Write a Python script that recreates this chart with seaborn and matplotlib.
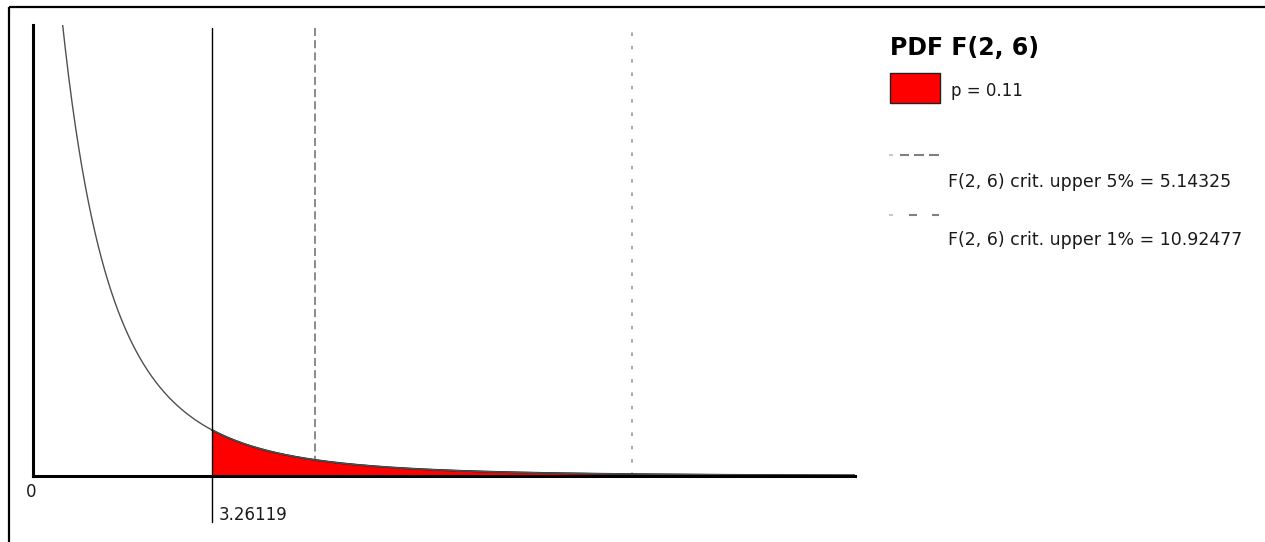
import math

import matplotlib
matplotlib.use("Agg")
import matplotlib.pyplot as plt
from matplotlib.patches import Rectangle
import numpy as np
import pandas as pd
import seaborn as sns

# Distribution and test values
DF_NUM = 2
DF_DEN = 6
F_STAT = 3.26119
P_VALUE = 0.11
CRIT_LEVELS = ["5%", "1%"]
CRIT_VALUES = [5.14325, 10.92477]
X_LIMITS = [0, 15]
Y_LIMITS = [0, 0.515]


def f_pdf(x, d1, d2):
    """Density of the F(d1, d2) distribution."""
    x = np.asarray(x, dtype=float)
    log_beta = math.lgamma(d1 / 2) + math.lgamma(d2 / 2) - math.lgamma((d1 + d2) / 2)
    with np.errstate(divide="ignore"):
        log_num = (d1 / 2) * np.log(d1 / d2) + (d1 / 2 - 1) * np.log(x) \
            - ((d1 + d2) / 2) * np.log1p(d1 * x / d2)
    return np.exp(log_num - log_beta)


xs = np.linspace(0.0, X_LIMITS[1], 1500)
curve = pd.DataFrame({"x": xs, "density": f_pdf(xs, DF_NUM, DF_DEN)})
tail = curve[curve["x"] >= F_STAT]

sns.set_style("white")
plt.rcParams["font.family"] = ["DejaVu Sans"]
plt.rcParams["lines.scale_dashes"] = False

W, H = 1265, 542
fig = plt.figure(figsize=(W / 100, H / 100), dpi=100)
fig.patch.set_facecolor("white")

# plotting area in pixel terms
left_px, right_px, top_px, base_px = 33, 855, 25, 476
ax = fig.add_axes([left_px / W, (H - base_px) / H,
                   (right_px - left_px) / W, (base_px - top_px) / H])
ax.set_xlim(*X_LIMITS)
ax.set_ylim(*Y_LIMITS)
ax.set_facecolor("white")

# shaded upper tail
ax.fill_between(tail["x"], 0, tail["density"], color="#ff0000", linewidth=0, zorder=2)
sns.lineplot(data=tail, x="x", y="density", ax=ax, color="#111111", linewidth=1.3, zorder=3)

# density curve
sns.lineplot(data=curve, x="x", y="density", ax=ax, color="#505050", linewidth=1.0, zorder=3)

# observed statistic
ax.axvline(F_STAT, ymin=-0.102, ymax=0.993, color="black", linewidth=1.0,
           clip_on=False, zorder=4)
ax.text(F_STAT + 0.12, -0.045, f"{F_STAT}", fontsize=12, color="#1a1a1a",
        va="center", ha="left", clip_on=False)

# critical values
crit_styles = [dict(color="#777777", dashes=(5.8, 3.0)),
               dict(color="#9a9a9a", dashes=(2.6, 7.0))]
for val, st in zip(CRIT_VALUES, crit_styles):
    ax.axvline(val, ymin=0.0, ymax=0.995, linewidth=1.2, zorder=1,
               color=st["color"], linestyle=(0, st["dashes"]))

ax.text(-0.03, -0.018, "0", fontsize=12, color="#1a1a1a", ha="center", va="center",
        clip_on=False)

for side in ("top", "right"):
    ax.spines[side].set_visible(False)
for side in ("left", "bottom"):
    ax.spines[side].set_linewidth(2.2)
    ax.spines[side].set_color("black")
    ax.spines[side].set_zorder(5)
ax.set_xticks([])
ax.set_yticks([])
ax.set_xlabel("")
ax.set_ylabel("")

# overlay in pixel coordinates for the frame and the legend
ov = fig.add_axes([0, 0, 1, 1], zorder=10)
ov.set_xlim(0, W)
ov.set_ylim(H, 0)
ov.axis("off")
ov.patch.set_alpha(0)

ov.plot([9, W], [7, 7], color="black", linewidth=1.6, solid_capstyle="butt")
ov.plot([9, 9], [7, H], color="black", linewidth=1.6, solid_capstyle="butt")

ov.text(890, 55, f"PDF F({DF_NUM}, {DF_DEN})", fontsize=17, fontweight="bold",
        color="black", ha="left", va="baseline")
ov.add_patch(Rectangle((890, 73), 50, 30, facecolor="#ff0000", edgecolor="#222222",
                       linewidth=1.0))
ov.text(951, 96, f"p = {P_VALUE}", fontsize=12, color="#1a1a1a", ha="left", va="baseline")

legend_rows = [
    dict(y=155, segs=[(900, 909), (914, 924), (929, 939)], baseline=187),
    dict(y=215, segs=[(909, 917), (932, 939)], baseline=245),
]
for (level, val), row in zip(zip(CRIT_LEVELS, CRIT_VALUES), legend_rows):
    ov.plot([889, 893], [row["y"], row["y"]], color="#c8c8c8", linewidth=1.5,
            solid_capstyle="butt")
    for a, b in row["segs"]:
        ov.plot([a, b], [row["y"], row["y"]], color="#808080", linewidth=1.5,
                solid_capstyle="butt")
    ov.text(948, row["baseline"], f"F({DF_NUM}, {DF_DEN}) crit. upper {level} = {val}",
            fontsize=12.5, color="#1a1a1a", ha="left", va="baseline")

fig.savefig("out.png", dpi=100, facecolor="white")
